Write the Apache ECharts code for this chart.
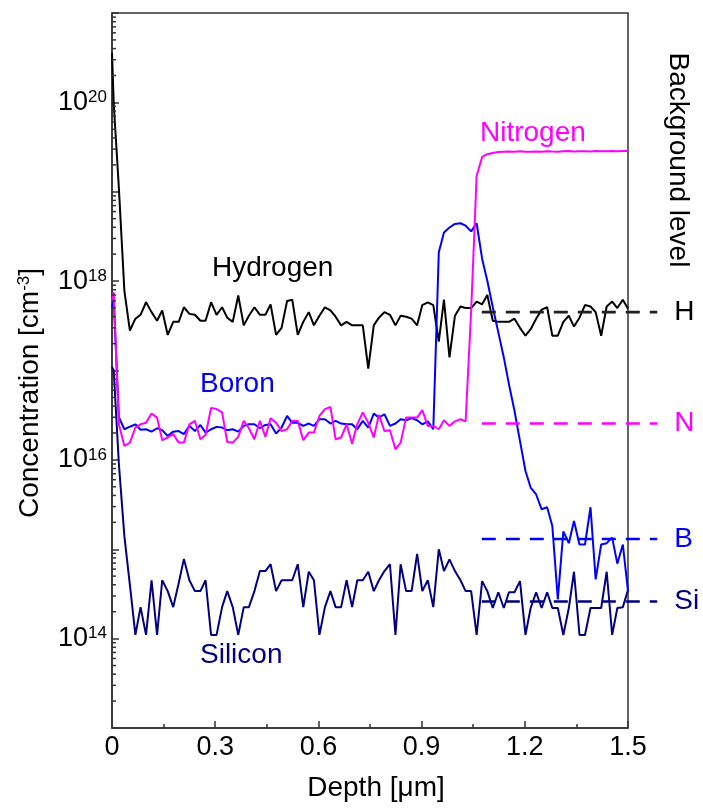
<!DOCTYPE html>
<html><head><meta charset="utf-8">
<script src="https://cdn.jsdelivr.net/npm/echarts@6/dist/echarts.min.js"></script>
<style>html,body{margin:0;padding:0;background:#fff}#c{width:703px;height:811px}</style>
</head><body><div id="c"></div>
<script>
const FONT = '"Liberation Sans", Arial, Helvetica, sans-serif';

// depth [um]
const depth = [0, 0.005, 0.020,
 0.036, 0.052, 0.068, 0.083, 0.099, 0.115, 0.131, 0.146, 0.162, 0.178,
 0.194, 0.209, 0.225, 0.241, 0.257, 0.272, 0.288, 0.304, 0.320, 0.335,
 0.351, 0.367, 0.383, 0.398, 0.414, 0.430, 0.446, 0.461, 0.477, 0.493,
 0.509, 0.524, 0.540, 0.556, 0.572, 0.587, 0.603, 0.619, 0.635, 0.650,
 0.666, 0.682, 0.698, 0.713, 0.729, 0.745, 0.761, 0.776, 0.792, 0.808,
 0.824, 0.839, 0.855, 0.871, 0.887, 0.902, 0.918, 0.934, 0.950, 0.965,
 0.981, 0.997, 1.013, 1.028, 1.044, 1.060, 1.076, 1.091, 1.107, 1.123,
 1.139, 1.154, 1.170, 1.186, 1.202, 1.217, 1.233, 1.249, 1.265, 1.280,
 1.296, 1.312, 1.328, 1.343, 1.359, 1.375, 1.391, 1.406, 1.422, 1.438,
 1.454, 1.469, 1.485, 1.500];

const hydrogen = [3.6e20, 9.7e19, 1.1e19,
 7.8e17, 2.8e17, 3.8e17, 4.2e17, 5.8e17, 4.5e17, 3.6e17, 4.7e17, 2.5e17, 3.5e17,
 3.5e17, 5.1e17, 4.3e17, 4.2e17, 3.6e17, 3.6e17, 5.8e17, 4.2e17, 5.1e17, 3.9e17,
 3.5e17, 6.9e17, 3.2e17, 4.1e17, 5.1e17, 4.2e17, 4.2e17, 5.5e17, 2.5e17, 3.0e17,
 6.0e17, 6.2e17, 2.5e17, 3.5e17, 4.5e17, 3.2e17, 4.1e17, 5.1e17, 4.7e17, 4.0e17,
 3.2e17, 3.5e17, 3.2e17, 3.2e17, 3.2e17, 1.05e17, 3.2e17, 3.9e17, 4.5e17, 4.2e17,
 3.2e17, 4.1e17, 4.0e17, 3.8e17, 3.2e17, 5.4e17, 5.8e17, 5.4e17, 2.1e17, 6.2e17,
 1.4e17, 4.1e17, 5.2e17, 5.0e17, 5.0e17, 5.9e17, 5.5e17, 7.0e17, 3.6e17, 3.5e17,
 3.5e17, 3.5e17, 3.8e17, 3.0e17, 2.45e17, 2.9e17, 3.8e17, 4.8e17, 5.1e17, 2.45e17,
 2.45e17, 3.5e17, 4.1e17, 3.1e17, 3.9e17, 5.4e17, 5.2e17, 4.5e17, 2.45e17, 5.2e17,
 5.9e17, 5.0e17, 6.2e17, 4.9e17];

const boron = [5.0e17, 6.0e17, 3.0e16,
 2.2e16, 2.35e16, 2.5e16, 2.17e16, 2.2e16, 2.07e16, 2.26e16, 2.15e16, 1.85e16, 2.07e16,
 2.1e16, 1.94e16, 2.4e16, 2.1e16, 2.46e16, 2.02e16, 2.2e16, 2.34e16, 2.3e16, 2.15e16,
 2.2e16, 2.07e16, 2.4e16, 2.5e16, 2.5e16, 2.26e16, 2.46e16, 2.5e16, 1.97e16, 2.3e16,
 3.1e16, 2.6e16, 2.6e16, 2.4e16, 2.55e16, 2.4e16, 2.85e16, 2.85e16, 2.55e16, 2.73e16,
 2.55e16, 2.5e16, 2.5e16, 2.2e16, 2.73e16, 2.3e16, 3.3e16, 2.97e16, 3.24e16, 2.4e16,
 2.55e16, 2.85e16, 2.78e16, 2.93e16, 2.78e16, 2.5e16, 2.7e16, 2.2e16, 2.1e18, 3.5e18,
 3.98e18, 4.37e18, 4.44e18, 4.17e18, 3.6e18, 4.44e18, 1.77e18, 1.01e18, 5.1e17, 2.67e17,
 1.4e17, 7.0e16, 3.55e16, 1.62e16, 7.5e15, 4.9e15, 4.1e15, 2.8e15, 2.95e15, 1.82e15,
 2.75e14, 1.58e15, 1.17e15, 2.07e15, 1.13e15, 1.13e15, 2.95e15, 4.6e14, 1.13e15, 1.17e15,
 1.35e15, 6.9e14, 1.13e15, 3.4e14];

const nitrogen = [6.0e17, 7.5e17, 2.5e16,
 1.43e16, 1.56e16, 2.3e16, 2.5e16, 2.6e16, 3.3e16, 2.97e16, 1.66e16, 1.78e16, 1.94e16,
 1.56e16, 1.56e16, 2.5e16, 2.73e16, 1.7e16, 1.9e16, 3.8e16, 3.7e16, 3.4e16, 1.58e16,
 1.56e16, 1.81e16, 2.73e16, 2.26e16, 1.7e16, 2.73e16, 1.81e16, 2.93e16, 2.6e16, 2.1e16,
 2.2e16, 2.73e16, 2.73e16, 1.66e16, 2.02e16, 2.02e16, 3.1e16, 3.7e16, 3.9e16, 1.7e16,
 1.78e16, 2.5e16, 1.52e16, 2.5e16, 3.4e16, 2.6e16, 1.78e16, 3.2e16, 2.1e16, 2.15e16,
 1.32e16, 1.56e16, 2.97e16, 2.97e16, 2.97e16, 3.6e16, 2.4e16, 2.4e16, 2.2e16, 2.78e16,
 2.4e16, 2.7e16, 2.85e16, 2.7e16, 4.6e17, 1.5e19, 2.45e19, 2.63e19, 2.72e19, 2.78e19,
 2.8e19, 2.82e19, 2.8e19, 2.83e19, 2.8e19, 2.81e19, 2.82e19, 2.8e19, 2.84e19, 2.82e19,
 2.8e19, 2.83e19, 2.85e19, 2.82e19, 2.84e19, 2.83e19, 2.82e19, 2.85e19, 2.84e19, 2.83e19,
 2.85e19, 2.84e19, 2.85e19, 2.85e19];

const silicon = [1.1e17, 1.0e17, 9.0e15,
 1.4e15, 4.0e14, 1.1e14, 2.25e14, 1.1e14, 4.5e14, 1.1e14, 4.5e14, 3.4e14, 2.25e14,
 4.2e14, 7.8e14, 4.5e14, 3.4e14, 3.4e14, 4.5e14, 1.1e14, 1.1e14, 2.25e14, 3.4e14,
 2.25e14, 1.1e14, 2.25e14, 2.25e14, 3.4e14, 5.7e14, 5.7e14, 6.8e14, 3.4e14, 4.5e14,
 4.5e14, 4.5e14, 6.8e14, 2.25e14, 5.6e14, 4.5e14, 1.1e14, 2.25e14, 3.4e14, 2.25e14,
 2.25e14, 4.5e14, 2.25e14, 4.5e14, 4.5e14, 5.6e14, 3.4e14, 4.5e14, 5.7e14, 6.8e14,
 1.1e14, 6.8e14, 3.4e14, 3.4e14, 8.9e14, 3.4e14, 4.5e14, 2.25e14, 1.0e15, 5.7e14,
 7.7e14, 5.7e14, 4.5e14, 3.4e14, 3.4e14, 1.1e14, 4.4e14, 3.4e14, 2.2e14, 3.3e14,
 2.2e14, 3.3e14, 3.3e14, 4.4e14, 1.1e14, 2.2e14, 3.3e14, 2.2e14, 3.3e14, 2.2e14,
 2.2e14, 1.1e14, 2.2e14, 5.6e14, 1.1e14, 1.1e14, 2.2e14, 2.2e14, 2.2e14, 5.6e14,
 1.1e14, 2.2e14, 2.25e14, 3.5e14];

// background levels (dashed lines run past the right frame)
const bgDepth = [1.075, 1.585];
const bgNames = ['H', 'N', 'B', 'Si'];
const bgValues = [4.5e17, 2.55e16, 1.3e15, 2.6e14];
const bgColors = ['#231f20', '#ff00ff', '#0000ff', '#000080'];
const bgLabelColors = ['#000000', '#ff00ff', '#0000ff', '#000080'];

// axis ticks
const xMax = 1.5;
const yLabelExps = [14, 16, 18, 20];
const decades = [1e13, 1e14, 1e15, 1e16, 1e17, 1e18, 1e19, 1e20];
const minorMult = [2, 3, 4, 5, 6, 7, 8, 9];

const AXIS = '#333333';
const pairs = arr => depth.map((d, i) => [d, arr[i]]);
const minorVals = [];
decades.forEach(d => minorMult.forEach(m => minorVals.push([0, m * d])));

function lineSeries(name, arr, color) {
  return { name, type: 'line', data: pairs(arr), showSymbol: false, symbol: 'none',
    lineStyle: { color, width: 2 }, itemStyle: { color }, animation: false, z: 3 };
}

const series = [
  lineSeries('Hydrogen', hydrogen, '#000000'),
  lineSeries('Silicon', silicon, '#000080'),
  lineSeries('Boron', boron, '#0000ff'),
  lineSeries('Nitrogen', nitrogen, '#ff00ff')
];

// background-level dashed lines + right-hand labels
series.push({
  type: 'custom', silent: true, animation: false, z: 4, clip: false,
  data: bgValues.map((v, i) => [bgDepth[0], v, bgDepth[1], i]),
  renderItem: (params, api) => {
    const i = api.value(3);
    const p1 = api.coord([api.value(0), api.value(1)]);
    const pEdge = api.coord([xMax, api.value(1)]);
    const ext = Math.abs(api.size([api.value(2) - xMax, 0], [0.75, 1e16])[0]);
    const x2 = pEdge[0] + ext;
    return { type: 'group', children: [
      { type: 'line', shape: { x1: p1[0], y1: p1[1], x2: x2, y2: p1[1] },
        style: { stroke: bgColors[i], lineWidth: 2.6, lineDash: [14, 10] } },
      { type: 'text', x: x2 + 17, y: p1[1],
        style: { text: bgNames[i], fill: bgLabelColors[i], font: '28px ' + FONT, align: 'left', verticalAlign: 'middle' } }
    ] };
  }
});

// log minor ticks on the y axis
series.push({
  type: 'custom', silent: true, animation: false, z: 6, data: minorVals,
  renderItem: (params, api) => {
    const p = api.coord([0, api.value(1)]);
    return { type: 'line', shape: { x1: p[0], y1: p[1], x2: p[0] + 4, y2: p[1] },
      style: { stroke: AXIS, lineWidth: 1.5 } };
  }
});

function txt(text, x, y, color, rot, align) {
  return { type: 'text', x, y, rotation: rot || 0, z: 10,
    style: { text, fill: color, font: '28px ' + FONT, align: align || 'left', verticalAlign: 'middle' } };
}

const option = {
  backgroundColor: '#ffffff',
  animation: false,
  grid: { left: 112, right: 75, top: 13, bottom: 83, show: true, borderColor: AXIS, borderWidth: 1.5, backgroundColor: 'transparent' },
  xAxis: {
    type: 'value', min: 0, max: xMax, interval: 0.3,
    axisLine: { show: true, onZero: false, lineStyle: { color: AXIS, width: 1.5 } },
    axisTick: { show: true, inside: true, length: 7, lineStyle: { color: AXIS, width: 1.5 } },
    minorTick: { show: true, splitNumber: 2, length: 4, lineStyle: { color: AXIS, width: 1.5 } },
    splitLine: { show: false }, minorSplitLine: { show: false },
    axisLabel: { fontSize: 27, color: '#000', fontFamily: FONT, margin: 6,
      formatter: v => { const r = Math.round(v * 10) / 10; return r === 0 ? '0' : r.toFixed(1); } },
    name: 'Depth [μm]', nameLocation: 'middle', nameGap: 46,
    nameTextStyle: { fontSize: 28, color: '#000', fontFamily: FONT, padding: [0, 0, 0, 12] }
  },
  yAxis: {
    type: 'log', logBase: 10, min: 1e13, max: 1e21,
    axisLine: { show: true, onZero: false, lineStyle: { color: AXIS, width: 1.5 } },
    axisTick: { show: true, inside: true, length: 7, lineStyle: { color: AXIS, width: 1.5 } },
    splitLine: { show: false },
    axisLabel: {
      margin: 5,
      formatter: v => { const e = Math.round(Math.log10(v)); return yLabelExps.indexOf(e) >= 0 ? '{b|10}{s|' + e + '}' : ''; },
      rich: {
        b: { fontSize: 27, fontFamily: FONT, color: '#000' },
        s: { fontSize: 17, fontFamily: FONT, color: '#000', verticalAlign: 'top' }
      }
    }
  },
  graphic: [
    { type: 'text', x: 30, y: 393, rotation: Math.PI / 2, z: 10,
      style: { text: '{a|Concentration [cm}{s|-3}{a|]}', align: 'center', verticalAlign: 'middle',
        rich: { a: { fontSize: 28, fontFamily: FONT, fill: '#000', color: '#000' },
                s: { fontSize: 17, fontFamily: FONT, fill: '#000', color: '#000', verticalAlign: 'top' } } } },
    txt('Background level', 678, 160, '#000', -Math.PI / 2, 'center'),
    txt('Hydrogen', 212, 268, '#000'),
    txt('Boron', 200, 384, '#0000ff'),
    txt('Silicon', 200, 655, '#000080'),
    txt('Nitrogen', 480, 133, '#ff00ff')
  ],
  series
};

const chart = echarts.init(document.getElementById('c'), null, { renderer: 'canvas' });
chart.setOption(option);
</script>
</body></html>
